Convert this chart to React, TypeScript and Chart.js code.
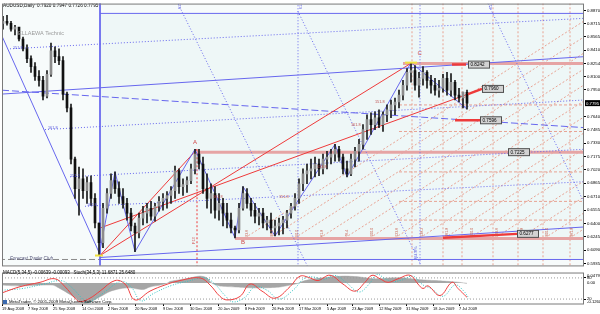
import React, { useEffect, useRef } from "react";
import { Chart, registerables } from "chart.js";

Chart.register(...registerables);

const FONT = "'Liberation Sans', Arial, sans-serif";

// ---------------- data ----------------
const symbolTitle = "AUDUSD,Daily  0.7920 0.7947 0.7726 0.7795";
const watermark = "ELLAEWA Technic";
const firstOpen = 0.872;

const highs = [
  0.8802, 0.8813, 0.8745, 0.8699, 0.8653, 0.8562, 0.8471, 0.8345, 0.8265, 0.8174,
  0.8105, 0.8174, 0.8493, 0.8448, 0.8425, 0.8334, 0.7922, 0.7785, 0.7169, 0.7054,
  0.7032, 0.694, 0.6952, 0.6746, 0.6404, 0.6632, 0.6803, 0.6975, 0.6997, 0.6883,
  0.6803, 0.6689, 0.6575, 0.6404, 0.6518, 0.6598, 0.6632, 0.6655, 0.6632, 0.6712,
  0.6746, 0.6769, 0.6826, 0.7066, 0.7032, 0.6917, 0.694, 0.7089, 0.726, 0.726,
  0.7169, 0.6975, 0.686, 0.6826, 0.6746, 0.6689, 0.6632, 0.6518, 0.6369, 0.6632,
  0.6826, 0.6803, 0.6689, 0.6632, 0.6575, 0.6575, 0.6483, 0.6518, 0.6438, 0.6461,
  0.6483, 0.6552, 0.6632, 0.6746, 0.6917, 0.7032, 0.7089, 0.7146, 0.7169, 0.7146,
  0.7203, 0.7237, 0.726, 0.7317, 0.7294, 0.7203, 0.7123, 0.7203, 0.7283, 0.7374,
  0.7546, 0.766, 0.7683, 0.7694, 0.7717, 0.7694, 0.7774, 0.7831, 0.7854, 0.7945,
  0.8059, 0.8196, 0.8265, 0.8231, 0.8151, 0.8219, 0.8174, 0.8117, 0.8082, 0.8059,
  0.8128, 0.8151, 0.8139, 0.8059, 0.7968, 0.7922, 0.7947,
];
const lows = [
  0.8653, 0.8699, 0.863, 0.8585, 0.8516, 0.8402, 0.8265, 0.8151, 0.8059, 0.7991,
  0.7831, 0.7854, 0.8105, 0.8265, 0.8242, 0.7831, 0.7694, 0.7089, 0.6689, 0.6495,
  0.6689, 0.6632, 0.6609, 0.6346, 0.6027, 0.6118, 0.6518, 0.6689, 0.6746, 0.6632,
  0.6575, 0.6438, 0.6312, 0.6072, 0.6232, 0.6381, 0.6404, 0.6438, 0.6426, 0.6541,
  0.6552, 0.6575, 0.6632, 0.6689, 0.6746, 0.6723, 0.6758, 0.686, 0.6975, 0.7032,
  0.6746, 0.6575, 0.6518, 0.6461, 0.6438, 0.6369, 0.6346, 0.6289, 0.6232, 0.6289,
  0.6552, 0.6575, 0.6483, 0.6404, 0.6381, 0.6346, 0.6324, 0.6289, 0.6255, 0.6267,
  0.6278, 0.6346, 0.6461, 0.6552, 0.6632, 0.678, 0.686, 0.6917, 0.694, 0.6952,
  0.6975, 0.7032, 0.7089, 0.7123, 0.7123, 0.6975, 0.694, 0.6952, 0.7054, 0.7123,
  0.726, 0.7374, 0.7431, 0.7488, 0.7511, 0.7466, 0.758, 0.7625, 0.766, 0.774,
  0.7831, 0.7945, 0.8037, 0.7945, 0.7865, 0.8002, 0.7968, 0.7911, 0.7888, 0.7865,
  0.7922, 0.7888, 0.7877, 0.7831, 0.7808, 0.774, 0.7726,
];
const closes = [
  0.8745, 0.8722, 0.8653, 0.8676, 0.8539, 0.8425, 0.8311, 0.8219, 0.8105, 0.8059,
  0.7877, 0.8128, 0.8402, 0.8334, 0.8288, 0.79, 0.774, 0.7146, 0.6803, 0.6917,
  0.678, 0.6872, 0.6689, 0.6404, 0.6175, 0.6575, 0.6746, 0.6895, 0.6803, 0.6712,
  0.6632, 0.6518, 0.6369, 0.6289, 0.6461, 0.6518, 0.6575, 0.6483, 0.6598, 0.6655,
  0.6689, 0.6723, 0.678, 0.7009, 0.6826, 0.6849, 0.6895, 0.7032, 0.7203, 0.7089,
  0.6803, 0.6689, 0.6746, 0.6552, 0.6632, 0.6518, 0.6438, 0.6346, 0.6324, 0.6575,
  0.6746, 0.6632, 0.6552, 0.6483, 0.6518, 0.6404, 0.6438, 0.6346, 0.6369, 0.6404,
  0.6438, 0.6518, 0.6598, 0.6689, 0.686, 0.6975, 0.7009, 0.7032, 0.7089, 0.7032,
  0.7146, 0.7169, 0.7203, 0.726, 0.7169, 0.7032, 0.6975, 0.7146, 0.7237, 0.7317,
  0.7488, 0.7603, 0.7546, 0.7625, 0.7546, 0.766, 0.7717, 0.7774, 0.7808, 0.7888,
  0.8002, 0.8151, 0.8174, 0.8002, 0.8082, 0.8151, 0.8059, 0.8002, 0.7945, 0.7968,
  0.8082, 0.7945, 0.8037, 0.7888, 0.7854, 0.792, 0.7795,
];
const currentPrice = 0.7795;

const priceTicks = [
  0.887, 0.8715, 0.8565, 0.841, 0.8254, 0.81, 0.795, 0.764, 0.7485, 0.733,
  0.7175, 0.702, 0.6865, 0.671, 0.6555, 0.64, 0.6245, 0.609, 0.5935,
];

const dateLabels = [
  "19 Aug 2008", "7 Sep 2008", "25 Sep 2008", "14 Oct 2008", "2 Nov 2008", "20 Nov 2008",
  "9 Dec 2008", "30 Dec 2008", "20 Jan 2009", "8 Feb 2009", "26 Feb 2009", "17 Mar 2009",
  "5 Apr 2009", "23 Apr 2009", "12 May 2009", "31 May 2009", "18 Jun 2009", "7 Jul 2009",
];
const dateTickBars = [
  -0.25, 6.25, 12.5, 19.75, 26.25, 33, 40, 46.75, 53.75, 60.5, 67.25, 74, 81, 87.25, 94,
  100.75, 107.5, 114,
];

// zigzag turning bars (H = high of bar, L = low of bar)
const zigzagBars = [24, 28, 33, 48, 58, 60, 68, 83, 86, 102, 116];
const zigzagKinds = ["L", "H", "L", "H", "L", "H", "L", "H", "L", "H", "L"];

// drawn objects: [bar1, price1, bar2, price2]
const blueSolid = [
  [24.25, 0.8836, 150, 0.8836],
  [24.25, 0.9, 24.25, 0.58],
  [-0.25, 0.8573, 24.25, 0.6038],
  [-0.25, 0.79, 145.25, 0.8334],
  [24.25, 0.5981, 150, 0.5981],
  [24.25, 0.6004, 145.25, 0.6358],
];
const blueDashed = [[-0.25, 0.7945, 145.25, 0.7511]];
const blueDotted = [
  [1.75, 0.8425, 145.25, 0.8779],
  [10.5, 0.7488, 145.25, 0.7831],
  [16.75, 0.694, 145.25, 0.726],
  [20.5, 0.6598, 145.25, 0.6883],
  [43.5, 0.8973, 76.75, 0.5844],
  [73.75, 0.8859, 104.5, 0.5913],
  [121.25, 0.895, 145.25, 0.6643],
  [73.75, 0.9, 73.75, 0.58],
  [104.25, 0.9, 104.25, 0.58],
];
const redSolid = [
  [24.25, 0.6027, 102.25, 0.8265],
  [24.25, 0.6027, 48.5, 0.726],
  [24.25, 0.6346, 116.25, 0.79],
];
const redThick = [
  [112.25, 0.8242, 115.75, 0.8242],
  [116.25, 0.79, 119.75, 0.796],
  [113, 0.7596, 119.25, 0.7596],
  [110, 0.6232, 128.5, 0.6278],
];
const pinkBands = [
  [100, 0.8255, 150, 0.8255],
  [48.5, 0.7226, 150, 0.7226],
  [58, 0.6225, 150, 0.6225],
];
const redDottedVertical = [[48.5, 0.726, 48.5, 0.58]];
const forecastLine = [[-1, 0.5981, 24.25, 0.5981]];
const salmonLevels = [0.7774, 0.7466, 0.6997, 0.6655, 0.6438];
const salmonLevelStart = 99;
const salmonVerticals = [102.25, 110, 114.75, 122.5, 128.75, 135, 141.75];
const fanBase = 0.6232;
const fanStarts = [60.5, 66.75, 73, 79.25, 85.5, 91.75, 98, 104.25, 110.5, 116.75, 123, 129.25, 135.5, 141.75];
const fanEndBar = 150;
const fanEnds = [0.8889, 0.8704, 0.8518, 0.8333, 0.8147, 0.7961, 0.7776, 0.759, 0.7405, 0.7219, 0.7034, 0.6848, 0.6663, 0.6477];
const fanLabels = ["23.6", "38.2", "50.0", "61.8", "76.4", "100.0", "123.6", "138.2", "161.8", "200.0", "223.6", "261.8", "300.0", "361.8"];

// price boxes: [bar, price]
const boxLabels = ["0.8242", "0.7960", "0.7596", "0.7225", "0.6277"];
const boxBars = [116.25, 119.75, 119.25, 126.25, 128.5];
const boxPrices = [0.8242, 0.796, 0.7596, 0.7226, 0.6278];

// small chart texts: [text, bar, price]
const letterTexts = [
  ["A", 47.5, 0.7345],
  ["B", 59.5, 0.6185],
  ["C", 103.6, 0.837],
];
const fibTexts = [
  ["151.8", 2.5, 0.8437, "#5a5ae0"],
  ["161.8", 11.25, 0.7511, "#5a5ae0"],
  ["151.2", 16.75, 0.6952, "#5a5ae0"],
  ["161.8", 21, 0.6609, "#5a5ae0"],
  ["161.8", 52.5, 0.6706, "#c05050"],
  ["151.8", 69, 0.6706, "#c05050"],
  ["133.8", 78.5, 0.7054, "#c05050"],
  ["161.8", 87, 0.7546, "#c05050"],
  ["151.8", 93, 0.7808, "#c05050"],
];

// sub window: MACD histogram [bar, value] and stochastic [bar, value]
const macdPoints = [
  [-0.25, -0.014], [4.25, -0.02], [9.25, -0.014], [12.5, -0.014], [13.5, -0.026], [15.5, -0.056],
  [18, -0.098], [20, -0.134], [21.75, -0.128], [24.25, -0.092], [26.75, -0.056], [29.25, -0.038],
  [31.75, -0.032], [35, -0.044], [36.75, -0.026], [39.25, -0.014], [41, -0.002], [41.75, 0.01],
  [44.25, 0.022], [46.75, 0.034], [49.25, 0.046], [51, 0.034], [52.25, -0.002], [54.25, -0.02],
  [58, -0.026], [61.75, -0.032], [65.5, -0.032], [69.25, -0.026], [71.75, -0.014], [73.75, -0.002],
  [75.5, 0.016], [78, 0.028], [81.75, 0.04], [85.5, 0.046], [89.25, 0.04], [93, 0.028],
  [96.75, 0.034], [100.5, 0.034], [102.25, 0.028], [104.25, 0.022], [108, 0.016], [111.75, 0.01],
  [114.25, 0.004], [116, -0.002],
];
const stochMain = [
  [-0.25, 37.5], [4.25, 55], [9.25, 67.5], [13, 77.5], [15.5, 55], [18, 22.5], [19.25, 12.5],
  [21.75, 22.5], [24.25, 42.5], [28, 72.5], [30.5, 62.5], [33, 17.5], [36.75, 42.5], [40.5, 60],
  [44.25, 72.5], [49.25, 80], [51.75, 60], [54.25, 27.5], [56, 17.5], [59.25, 27.5], [61.75, 62.5],
  [64.75, 42.5], [68, 22.5], [71.75, 55], [74.25, 85], [76.75, 80], [78.75, 72.5], [81.75, 87.5],
  [85, 62.5], [88, 42.5], [90.5, 67.5], [92.25, 87.5], [94.25, 77.5], [96.25, 67.5], [98.75, 77.5],
  [101.75, 87.5], [103.75, 62.5], [105, 50], [106.25, 57.5], [109.25, 30], [112.25, 67.5],
  [113.75, 50], [116, 25],
];
const stochSignal = [
  [-0.25, 45], [5, 50], [10, 62], [14.5, 72], [17, 55], [19.5, 25], [21, 10], [23, 20], [26, 45],
  [29.5, 70], [32, 55], [34.5, 15], [37.5, 35], [42, 58], [46, 70], [50.5, 80], [53, 62], [55.5, 30],
  [57.5, 12], [60.5, 25], [63, 55], [66, 45], [69, 20], [72.5, 45], [75.5, 80], [78, 82], [80, 75],
  [83, 87], [86, 65], [89, 40], [91.5, 62], [93.5, 90], [95.5, 78], [97.5, 70], [100, 75],
  [102.5, 85], [105, 60], [107, 50], [110, 28], [113, 60], [115, 45], [116.5, 22],
];
const stochLevels = [80, 20];
const subTitle = "MACD(5,34,5) -0.00639 -0.00093   Stoch(34,5,3) 11.6871 25.6480";
const copyright = "MetaTrader, \u00a9 2001-2009 MetaQuotes Software Corp.";
const macdAxisLabels = ["0.04791", "0.00", "-0.1260"];
const macdAxisValues = [0.0479, 0, -0.128];

// ---------------- helpers ----------------
const lineDs = (pts: number[][], color: string, width: number, dash: number[] = [], order = 3, extra: any = {}) => ({
  type: "line" as const,
  data: pts.map((p) => ({ x: p[0], y: p[1] })),
  borderColor: color,
  backgroundColor: color,
  borderWidth: width,
  borderDash: dash,
  pointRadius: 0,
  pointHoverRadius: 0,
  fill: false,
  tension: 0,
  order,
  ...extra,
});
const segDs = (list: number[][], color: string, width: number, dash: number[] = [], order = 3) =>
  list.map((s) => lineDs([[s[0], s[1]], [s[2], s[3]]], color, width, dash, order));

const BLUE = "#6767ee";
const RED = "#ee3a3a";
const SALMON = "#e8a292";
const PINK = "#e6a4a4";

export default function App() {
  const mainRef = useRef<HTMLCanvasElement>(null);
  const subRef = useRef<HTMLCanvasElement>(null);

  useEffect(() => {
    document.body.style.margin = "0";
    const opens = closes.map((c, i) => (i === 0 ? firstOpen : closes[i - 1]));
    const bars = closes.map((_, i) => i);
    const wickData = bars.map((i) => ({ x: i, y: [lows[i], highs[i]] }));
    const bodyData = bars.map((i) => ({ x: i, y: [Math.min(opens[i], closes[i]), Math.max(opens[i], closes[i])] }));
    const bodyColors = bars.map((i) => (closes[i] >= opens[i] ? "#8c8c8c" : "#111111"));

    const zz = zigzagBars.map((b, k) => [b, zigzagKinds[k] === "H" ? highs[b] : lows[b]]);

    const datasets: any[] = [
      ...segDs(salmonVerticals.map((v) => [v, 0.9, v, 0.58]), SALMON, 1, [2, 2], 9),
      ...segDs(salmonLevels.map((p) => [salmonLevelStart, p, 150, p]), SALMON, 1, [3, 2], 9),
      ...segDs(fanStarts.map((s, k) => [s, fanBase, fanEndBar, fanEnds[k]]), SALMON, 1, [2, 2], 9),
      ...segDs(pinkBands, PINK, 3, [], 8),
      ...segDs(redDottedVertical, RED, 1, [2, 2], 7),
      ...segDs(forecastLine, "#8a8a8a", 1, [6, 3], 7),
      ...segDs(blueDotted, BLUE, 1, [1, 2], 6),
      ...segDs(blueDashed, BLUE, 1, [7, 3], 6),
      ...segDs(blueSolid, BLUE, 1, [], 5),
      ...segDs(redSolid, RED, 1, [], 5),
      lineDs(zz, BLUE, 1, [], 4),
      {
        type: "bar",
        data: wickData,
        backgroundColor: "#1a1a1a",
        barThickness: 1,
        grouped: false,
        order: 1,
      },
      {
        type: "bar",
        data: bodyData,
        backgroundColor: bodyColors,
        borderWidth: 0,
        borderSkipped: false,
        barThickness: 2,
        minBarLength: 1,
        grouped: false,
        order: 0,
      },
      ...segDs(redThick, RED, 2.5, [], -1),
    ];

    const mainDecor = {
      id: "mainDecor",
      beforeDraw(chart: any) {
        const { ctx, chartArea: a } = chart;
        const xs = chart.scales.x;
        const ys = chart.scales.y;
        ctx.save();
        ctx.fillStyle = "#ffffff";
        ctx.fillRect(0, 0, chart.width, chart.height);
        ctx.fillStyle = "#f7fbfb";
        ctx.fillRect(a.left, a.top, a.right - a.left, a.bottom - a.top);
        const rx = xs.getPixelForValue(24.25);
        const ry1 = ys.getPixelForValue(0.8836);
        const ry2 = ys.getPixelForValue(0.5981);
        ctx.fillStyle = "#eef7f7";
        ctx.fillRect(rx, ry1, a.right - rx, ry2 - ry1);
        ctx.restore();
      },
      afterDraw(chart: any) {
        const { ctx, chartArea: a } = chart;
        const xs = chart.scales.x;
        const ys = chart.scales.y;
        const X = (v: number) => xs.getPixelForValue(v);
        const Y = (v: number) => ys.getPixelForValue(v);
        ctx.save();
        ctx.beginPath();
        ctx.rect(a.left, a.top, a.right - a.left, a.bottom - a.top);
        ctx.clip();
        ctx.textBaseline = "middle";
        ctx.textAlign = "left";
        ctx.fillStyle = "#000";
        ctx.font = `4.7px ${FONT}`;
        ctx.fillText(symbolTitle, 3, 6);
        ctx.fillStyle = "#9a9a9a";
        ctx.font = `5.5px ${FONT}`;
        ctx.fillText(watermark, 18, 33);
        ctx.fillStyle = "#55557a";
        ctx.font = `italic 4.6px ${FONT}`;
        ctx.fillText("Forecast Trader Club", 10, Y(0.5981) - 0.5);
        ctx.font = `6px ${FONT}`;
        ctx.fillStyle = "#d04848";
        letterTexts.forEach((t: any) => ctx.fillText(t[0], X(t[1]), Y(t[2])));
        ctx.font = `3.8px ${FONT}`;
        fibTexts.forEach((t: any) => {
          ctx.fillStyle = t[3];
          ctx.fillText(t[0], X(t[1]), Y(t[2]));
        });
        ctx.fillStyle = "#c85a4a";
        ctx.font = `3.6px ${FONT}`;
        fanStarts.forEach((s, k) => {
          ctx.save();
          ctx.translate(X(s) + 2, Y(fanBase) - 1);
          ctx.rotate(-Math.PI / 2);
          ctx.fillText(fanLabels[k], 0, 0);
          ctx.restore();
        });
        const vtext = (t: string, bar: number, price: number, color: string) => {
          ctx.save();
          ctx.fillStyle = color;
          ctx.translate(X(bar), Y(price));
          ctx.rotate(-Math.PI / 2);
          ctx.fillText(t, 0, 0);
          ctx.restore();
        };
        ctx.font = `4px ${FONT}`;
        vtext("261.8%", 103.2, 0.5975, "#5a5ae0");
        vtext("F13", 47.6, 0.616, "#d04848");
        vtext("61.8", 44.2, 0.8885, "#5a5ae0");
        vtext("61.8", 74.4, 0.8885, "#5a5ae0");
        vtext("61.8", 121.9, 0.8885, "#5a5ae0");
        // yellow markers at the extremes
        ctx.fillStyle = "#f0e040";
        ctx.fillRect(X(100.5), Y(0.8265) - 1, 12, 2);
        ctx.fillRect(X(23), Y(0.6027) - 1, 8, 2);
        // price boxes
        ctx.font = `4.6px ${FONT}`;
        boxLabels.forEach((t, k) => {
          const bx = X(boxBars[k]);
          const by = Y(boxPrices[k]);
          ctx.fillStyle = "#d2d2d2";
          ctx.fillRect(bx, by - 3.5, 22, 7);
          ctx.strokeStyle = "#505050";
          ctx.lineWidth = 1;
          ctx.strokeRect(bx + 0.5, by - 3.5, 21, 7);
          ctx.fillStyle = "#000";
          ctx.fillText(t, bx + 2.5, by + 0.3);
        });
        ctx.restore();
        ctx.save();
        ctx.strokeStyle = "#7a7a7a";
        ctx.lineWidth = 1;
        ctx.strokeRect(a.left + 0.5, a.top + 0.5, a.right - a.left - 1, a.bottom - a.top);
        const cy = Y(currentPrice);
        ctx.fillStyle = "#000";
        ctx.fillRect(a.right + 1, cy - 3, 16, 6);
        ctx.fillStyle = "#fff";
        ctx.font = `4.3px ${FONT}`;
        ctx.textBaseline = "middle";
        ctx.fillText(currentPrice.toFixed(4), a.right + 2, cy + 0.3);
        ctx.restore();
      },
    };

    const main = new Chart(mainRef.current as HTMLCanvasElement, {
      type: "bar",
      data: { datasets },
      options: {
        animation: false,
        responsive: false,
        devicePixelRatio: 1,
        events: [],
        layout: { padding: { left: 2, right: 0, top: 2, bottom: 1 } },
        plugins: { legend: { display: false }, tooltip: { enabled: false } },
        scales: {
          x: { type: "linear", min: -0.25, max: 145.25, display: false, offset: false, grid: { offset: false } },
          y: {
            type: "linear",
            position: "right",
            min: 0.5912,
            max: 0.895,
            afterBuildTicks: (ax: any) => {
              ax.ticks = priceTicks.map((v) => ({ value: v }));
            },
            afterFit: (ax: any) => {
              ax.width = 16;
            },
            ticks: {
              autoSkip: false,
              font: { size: 4.3, family: FONT },
              color: "#000",
              padding: 1,
              callback: (v: any) => Number(v).toFixed(4),
            },
            grid: { drawOnChartArea: false, drawTicks: true, tickLength: 2, color: "#000" },
            border: { display: false },
          },
        },
      } as any,
      plugins: [mainDecor],
    } as any);

    const subDecor = {
      id: "subDecor",
      beforeDraw(chart: any) {
        const { ctx } = chart;
        ctx.save();
        ctx.fillStyle = "#ffffff";
        ctx.fillRect(0, 0, chart.width, chart.height);
        ctx.restore();
      },
      afterDraw(chart: any) {
        const { ctx, chartArea: a } = chart;
        const ym = chart.scales.yM;
        ctx.save();
        ctx.strokeStyle = "#7a7a7a";
        ctx.lineWidth = 1;
        ctx.strokeRect(a.left + 0.5, a.top + 0.5, a.right - a.left - 1, a.bottom - a.top - 0.5);
        ctx.fillStyle = "#000";
        ctx.textBaseline = "middle";
        ctx.font = `4.5px ${FONT}`;
        ctx.fillText(subTitle, 3, 4);
        ctx.font = `4.3px ${FONT}`;
        ctx.fillText(copyright, 9, 33);
        ctx.fillStyle = "#3a6ab0";
        ctx.fillRect(3, 31, 4, 4);
        ctx.fillStyle = "#000";
        ctx.font = `4.2px ${FONT}`;
        macdAxisLabels.forEach((t, k) => {
          ctx.fillText(t, a.right + 3, ym.getPixelForValue(macdAxisValues[k]));
        });
        ctx.restore();
      },
    };

    const sub = new Chart(subRef.current as HTMLCanvasElement, {
      type: "line",
      data: {
        datasets: [
          {
            data: macdPoints.map((p) => ({ x: p[0], y: p[1] })),
            yAxisID: "yM",
            borderColor: "#a6a6a6",
            backgroundColor: "#a6a6a6",
            borderWidth: 0.5,
            fill: "origin",
            pointRadius: 0,
            tension: 0.25,
            order: 5,
          },
          ...stochLevels.map((lv) => ({
            data: [{ x: -1, y: lv }, { x: 150, y: lv }],
            yAxisID: "yS",
            borderColor: "#9a9a9a",
            borderWidth: 1,
            borderDash: [1, 2],
            pointRadius: 0,
            fill: false,
            order: 4,
          })),
          {
            data: stochSignal.map((p) => ({ x: p[0], y: p[1] })),
            yAxisID: "yS",
            borderColor: "#37c4c4",
            borderWidth: 1,
            borderDash: [1, 1.5],
            pointRadius: 0,
            fill: false,
            tension: 0.4,
            order: 2,
          },
          {
            data: stochMain.map((p) => ({ x: p[0], y: p[1] })),
            yAxisID: "yS",
            borderColor: "#f04040",
            borderWidth: 1,
            pointRadius: 0,
            fill: false,
            tension: 0.4,
            order: 1,
          },
        ],
      },
      options: {
        animation: false,
        responsive: false,
        devicePixelRatio: 1,
        events: [],
        layout: { padding: { left: 2, right: 0, top: 0, bottom: 0 } },
        plugins: { legend: { display: false }, tooltip: { enabled: false } },
        scales: {
          x: {
            type: "linear",
            min: -0.25,
            max: 145.25,
            afterBuildTicks: (ax: any) => {
              ax.ticks = dateTickBars.map((v) => ({ value: v }));
            },
            afterFit: (ax: any) => {
              ax.height = 10;
            },
            ticks: {
              autoSkip: false,
              maxRotation: 0,
              minRotation: 0,
              align: "start",
              font: { size: 3.9, family: FONT },
              color: "#000",
              padding: 1,
              callback: (_v: any, i: number) => dateLabels[i],
            },
            grid: { drawOnChartArea: false, drawTicks: true, tickLength: 2, color: "#000" },
            border: { display: false },
          },
          yS: {
            type: "linear",
            position: "right",
            min: 5.96,
            max: 95.3,
            afterBuildTicks: (ax: any) => {
              ax.ticks = stochLevels.map((v) => ({ value: v }));
            },
            afterFit: (ax: any) => {
              ax.width = 16;
            },
            ticks: { autoSkip: false, font: { size: 4.2, family: FONT }, color: "#000", padding: 1 },
            grid: { drawOnChartArea: false, drawTicks: true, tickLength: 2, color: "#000" },
            border: { display: false },
          },
          yM: { type: "linear", display: false, min: -0.14, max: 0.07 },
        },
      } as any,
      plugins: [subDecor],
    } as any);

    return () => {
      main.destroy();
      sub.destroy();
    };
  }, []);

  return (
    <div style={{ position: "fixed", left: 0, top: 0, width: 600, height: 314, background: "#fff" }}>
      <canvas ref={mainRef} width={600} height={269} style={{ position: "absolute", left: 0, top: 0, width: 600, height: 269 }} />
      <canvas ref={subRef} width={600} height={45} style={{ position: "absolute", left: 0, top: 269, width: 600, height: 45 }} />
    </div>
  );
}
